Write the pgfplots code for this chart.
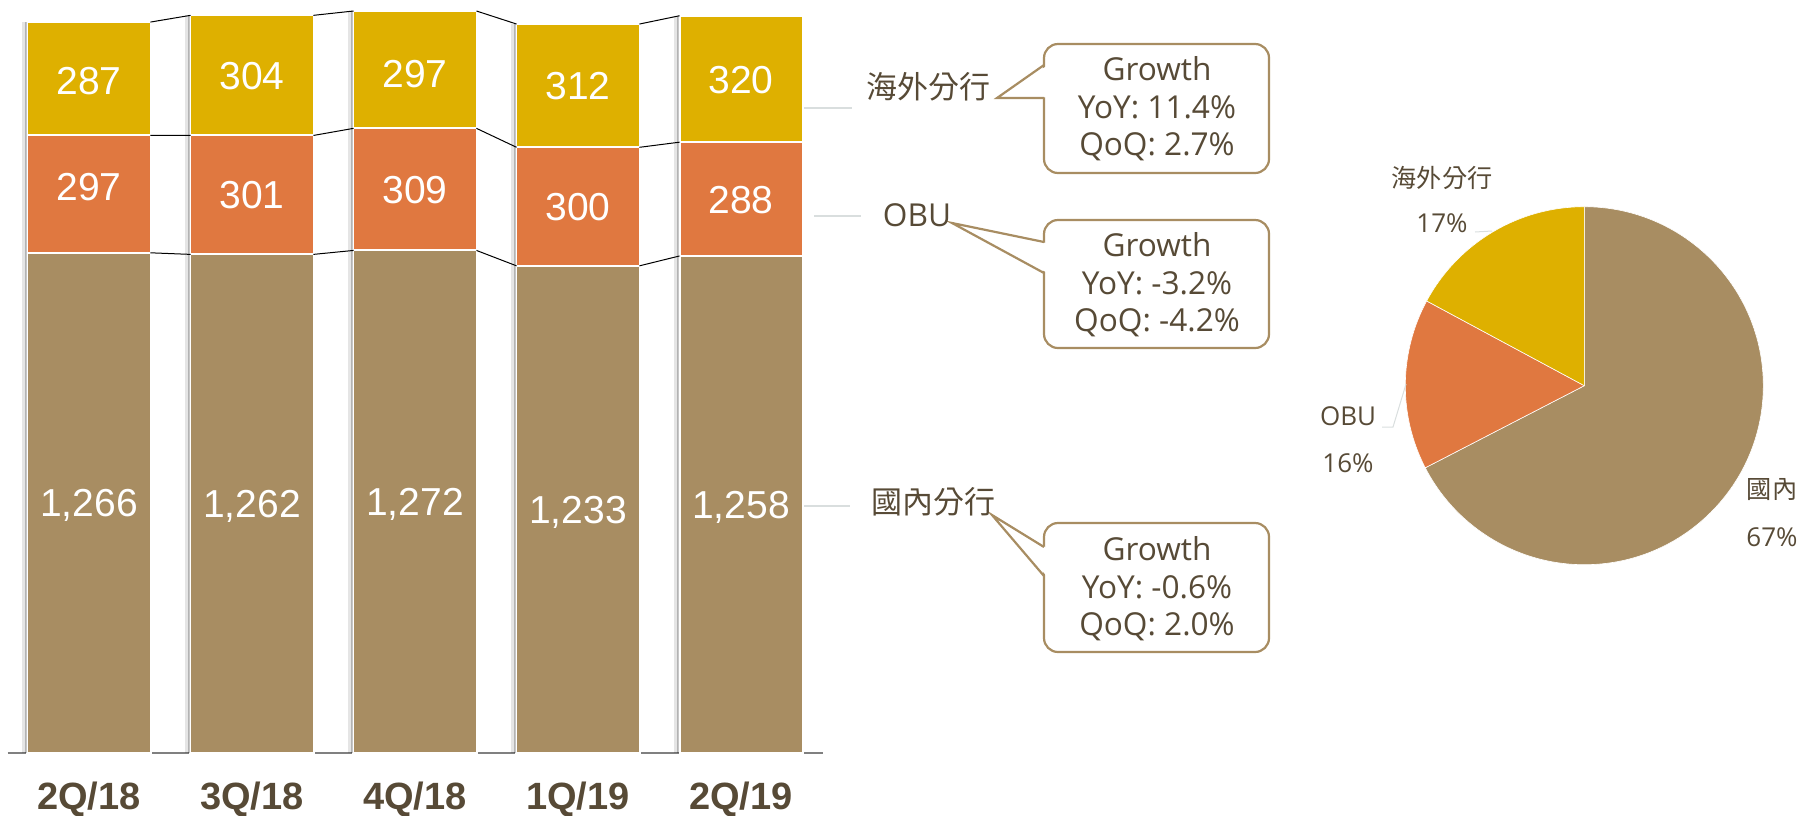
\documentclass[border=0pt]{standalone}
\usepackage{pgfplots}
\pgfplotsset{compat=1.18}
\usepackage{fontspec}
\setmainfont{Open Sans}
\newfontfamily\arialf{Liberation Sans}
\newfontfamily\cjk{Noto Sans CJK TC}
\definecolor{cYel}{HTML}{DEB000}
\definecolor{cOra}{HTML}{E07840}
\definecolor{cTan}{HTML}{A88D62}
\definecolor{txt}{HTML}{574A36}
\definecolor{lead}{HTML}{D9DEDE}
\begin{document}
\begin{tikzpicture}
\useasboundingbox (0,0) rectangle (901pt,-407.5pt);
% ---------- stacked bars ----------
\begin{axis}[
  at={(3.75pt,-376.5pt)}, anchor=south west,
  scale only axis, width=407.5pt, height=375.35pt,
  xmin=-0.5, xmax=4.5, ymin=0, ymax=1900,
  ybar stacked, bar width=61.5pt,
  axis x line*=bottom, axis y line=none,
  x axis line style={draw=gray, line width=0.75pt, -},
  xtick={0,1,2,3,4}, xticklabels={2Q/18,3Q/18,4Q/18,1Q/19,2Q/19},
  major tick length=0pt, xtick style={draw=none},
  xticklabel style={font=\arialf\bfseries\fontsize{19}{19}\selectfont, text=txt, anchor=center, text depth=0pt, inner sep=0pt, yshift=-21.5pt},
  ytick=\empty,
  clip=false,
]
\addplot[fill=cTan, draw=white, line width=1pt] coordinates {(0,1266)(1,1262)(2,1272)(3,1233)(4,1258)};
\addplot[fill=cOra, draw=white, line width=1pt] coordinates {(0,297)(1,301)(2,309)(3,300)(4,288)};
\addplot[fill=cYel, draw=white, line width=1pt] coordinates {(0,287)(1,304)(2,297)(3,312)(4,320)};
\end{axis}
% ---------- overlay: shadows, connectors, labels ----------
\begin{axis}[
  at={(3.75pt,-376.5pt)}, anchor=south west,
  scale only axis, width=407.5pt, height=375.35pt,
  xmin=-0.5, xmax=4.5, ymin=0, ymax=1900,
  axis lines=none, clip=false, unbounded coords=jump,
]
\addplot[ycomb, no marks, draw=black, opacity=0.10, line width=2pt] coordinates {(-0.4,1850)(0.6,1867)(1.6,1878)(2.6,1845)(3.6,1866)};
\addplot[ycomb, no marks, draw=black, opacity=0.22, line width=0.9pt] coordinates {(-0.3885,1850)(0.6115,1867)(1.6115,1878)(2.6115,1845)(3.6115,1866)};
\addplot[no marks, black, line width=0.5pt] coordinates {(0.377,1266)(0.623,1262)(1,nan)(1.377,1262)(1.623,1272)(2,nan)(2.377,1272)(2.623,1233)(3,nan)(3.377,1233)(3.623,1258)};
\addplot[no marks, black, line width=0.5pt] coordinates {(0.377,1563)(0.623,1563)(1,nan)(1.377,1563)(1.623,1581)(2,nan)(2.377,1581)(2.623,1533)(3,nan)(3.377,1533)(3.623,1546)};
\addplot[no marks, black, line width=0.5pt] coordinates {(0.377,1850)(0.623,1867)(1,nan)(1.377,1867)(1.623,1878)(2,nan)(2.377,1878)(2.623,1845)(3,nan)(3.377,1845)(3.623,1866)};
\tikzset{bl/.style={text=white, font=\arialf\fontsize{19.5}{19.5}\selectfont, text depth=0pt, inner sep=0pt, anchor=center}}
\node[bl] at (axis cs:0,1702) {287};
\node[bl] at (axis cs:1,1715) {304};
\node[bl] at (axis cs:2,1720) {297};
\node[bl] at (axis cs:3,1689) {312};
\node[bl] at (axis cs:4,1704) {320};
\node[bl] at (axis cs:0,1432) {297};
\node[bl] at (axis cs:1,1412.5) {301};
\node[bl] at (axis cs:2,1426.5) {309};
\node[bl] at (axis cs:3,1383) {300};
\node[bl] at (axis cs:4,1400) {288};
\node[bl] at (axis cs:0,633) {1,266};
\node[bl] at (axis cs:1,631) {1,262};
\node[bl] at (axis cs:2,636) {1,272};
\node[bl] at (axis cs:3,616.5) {1,233};
\node[bl] at (axis cs:4,629) {1,258};
\end{axis}
% ---------- pie ----------
\pgfmathsetmacro{\tot}{1258+288+320}
\pgfmathsetmacro{\aA}{90-360*(1258/\tot)}
\pgfmathsetmacro{\aB}{\aA-360*(288/\tot)}
\begin{axis}[
  at={(792.15pt,-192.85pt)}, anchor=center,
  scale only axis, width=179pt, height=179pt,
  xmin=-1, xmax=1, ymin=-1, ymax=1,
  axis lines=none, clip=false,
]
\filldraw[fill=cTan, draw=white, line width=0.3pt] (axis cs:0,0) -- ++(90:89.5pt) arc[start angle=90, end angle=\aA, radius=89.5pt] -- cycle;
\filldraw[fill=cOra, draw=white, line width=0.3pt] (axis cs:0,0) -- ++(\aA:89.5pt) arc[start angle=\aA, end angle=\aB, radius=89.5pt] -- cycle;
\filldraw[fill=cYel, draw=white, line width=0.3pt] (axis cs:0,0) -- ++(\aB:89.5pt) arc[start angle=\aB, end angle=-270, radius=89.5pt] -- cycle;
\end{axis}
% ---------- annotations ----------
\begin{scope}[x=0.5pt, y=-0.5pt]
\tikzset{co/.style={draw=cTan, line width=1.1pt},
  gt/.style={text=txt, font=\fontsize{15.8}{18.75}\selectfont, align=center, inner sep=0pt}}
% callout 1
\draw[co, fill=white, rounded corners=7pt] (1044,44) rectangle (1269,173);
\fill[white] (1045.8,66.5) -- (999,97.4) -- (1045.8,97.4) -- cycle;
\draw[co, line join=miter] (1044,65) -- (997,98) -- (1044,98);
\node[gt] at (1157,109) {Growth\\YoY: 11.4\%\\QoQ: 2.7\%};
% callout 2
\draw[co, fill=white, rounded corners=7pt] (1044,220) rectangle (1269,348);
\fill[white] (1045.8,243) -- (955,223.5) -- (1045.8,272) -- cycle;
\draw[co, line join=miter] (1044,242) -- (952,223) -- (1044,273);
\node[gt] at (1157,285) {Growth\\YoY: -3.2\%\\QoQ: -4.2\%};
% callout 3
\draw[co, fill=white, rounded corners=7pt] (1044,523) rectangle (1269,652);
\fill[white] (1045.8,547.5) -- (994,516) -- (1045.8,575) -- cycle;
\draw[co, line join=miter] (1044,547) -- (992,515) -- (1044,576);
\node[gt] at (1157,589) {Growth\\YoY: -0.6\%\\QoQ: 2.0\%};
% series labels
\node[text=txt, font=\cjk\fontsize{15.5}{15.5}\selectfont, inner sep=0pt] at (928,87) {海外分行};
\node[text=txt, font=\fontsize{15.8}{15.8}\selectfont, inner sep=0pt] at (917,215) {OBU};
\node[text=txt, font=\cjk\fontsize{15.5}{15.5}\selectfont, inner sep=0pt] at (933,502) {國內分行};
\draw[lead, line width=0.6pt] (804,108) -- (852,108);
\draw[lead, line width=0.6pt] (814,216) -- (861,216);
\draw[lead, line width=0.6pt] (804,506) -- (850,506);
% pie labels
\tikzset{pl/.style={text=txt, font=\fontsize{13}{13}\selectfont, inner sep=0pt},
  pc/.style={text=txt, font=\cjk\fontsize{12.6}{12.6}\selectfont, inner sep=0pt}}
\node[pc] at (1442,178) {海外分行};
\node[pl] at (1442,223) {17\%};
\node[pl] at (1348,416) {OBU};
\node[pl] at (1348,463) {16\%};
\node[pc] at (1772,490) {國內};
\node[pl] at (1772,537) {67\%};
\draw[lead, line width=0.5pt] (1475,232) -- (1492,231);
\draw[lead, line width=0.5pt] (1382,427) -- (1393,427) -- (1406,384);
\end{scope}
\end{tikzpicture}
\end{document}
